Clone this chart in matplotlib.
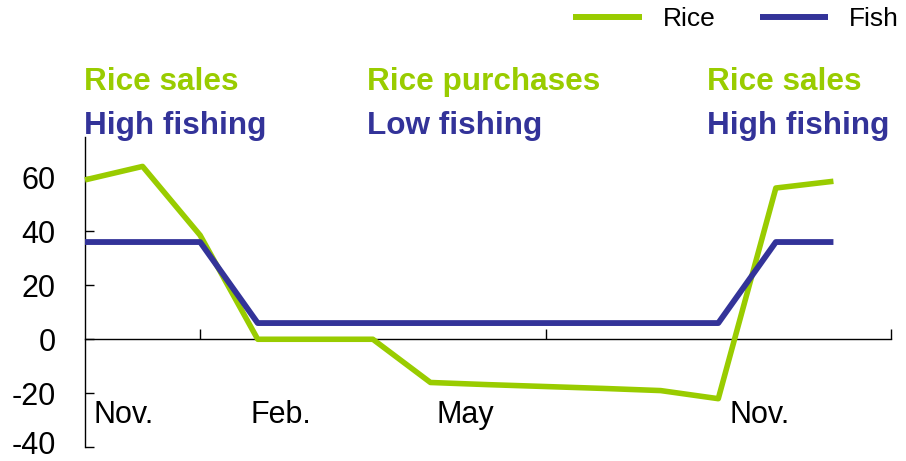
import matplotlib
matplotlib.use("Agg")
import matplotlib.pyplot as plt
import matplotlib.transforms as mtransforms

plt.rcParams['font.family'] = ['Liberation Sans', 'DejaVu Sans']

# Data (monthly index 0..13, Nov. to Dec. of following year)
months = list(range(14))
rice = [59, 64, 38.5, 0, 0, 0, -16, -16.8, -17.5, -18.2, -19, -22, 56, 58.5]
fish = [36, 36, 36, 6, 6, 6, 6, 6, 6, 6, 6, 6, 36, 36]
series_names = ["Rice", "Fish"]
month_labels = ["Nov.", "Feb.", "May", "Nov."]
month_label_pos = [0.14, 2.88, 6.11, 11.2]
yticks = [-40, -20, 0, 20, 40, 60]
rice_labels = ["Rice sales", "Rice purchases", "Rice sales"]
fish_labels = ["High fishing", "Low fishing", "High fishing"]
header_px = [84, 367, 707]

RICE_C = "#99CC00"
FISH_C = "#333399"

W, H = 906, 461
fig = plt.figure(figsize=(W / 100, H / 100), dpi=100)
ax = fig.add_axes([85 / W, 1 - 447.3 / H, (891 - 85) / W, (447.3 - 136.7) / H])

l1, = ax.plot(months, rice, color=RICE_C, lw=4.0, solid_capstyle='butt', clip_on=False, zorder=3)
l2, = ax.plot(months, fish, color=FISH_C, lw=4.2, solid_capstyle='butt', clip_on=False, zorder=3)

ax.set_xlim(0, 14)
ax.set_ylim(-40, 75)

for s in ['top', 'right']:
    ax.spines[s].set_visible(False)
ax.spines['bottom'].set_position(('data', 0))
ax.spines['left'].set_linewidth(1.0)
ax.spines['bottom'].set_linewidth(1.0)

ax.set_yticks(yticks)
ax.set_yticklabels([str(v) for v in yticks])
ax.tick_params(axis='y', direction='in', length=6.5, width=1, pad=21, labelsize=22)
ax.set_xticks([2, 8, 14])
ax.set_xticklabels([])
ax.tick_params(axis='x', direction='in', length=7, width=1)

# nudge the bottom tick label up slightly so it stays inside the canvas
bottom_lbl = ax.get_yticklabels()[0]
bottom_lbl.set_transform(bottom_lbl.get_transform() +
                         mtransforms.ScaledTranslation(0, 5 / 100, fig.dpi_scale_trans))

for lab, xp in zip(month_labels, month_label_pos):
    ax.text(xp, -31, lab, fontsize=22, ha='left', va='baseline', color='black')

for r, f, xp in zip(rice_labels, fish_labels, header_px):
    fig.text(xp / W, 1 - 90 / H, r, fontsize=22.7, fontweight='bold', color=RICE_C,
             ha='left', va='baseline')
    fig.text(xp / W, 1 - 134 / H, f, fontsize=22.7, fontweight='bold', color=FISH_C,
             ha='left', va='baseline')

leg = fig.legend([l1, l2], series_names, loc='center left',
                 bbox_to_anchor=(573 / W, 1 - 19 / H), bbox_transform=fig.transFigure,
                 ncol=2, frameon=False, fontsize=19, handlelength=2.6,
                 handletextpad=0.8, columnspacing=1.67, borderpad=0, borderaxespad=0)
for h in leg.legend_handles:
    h.set_linewidth(4.3)

fig.savefig("out.png", dpi=100)
